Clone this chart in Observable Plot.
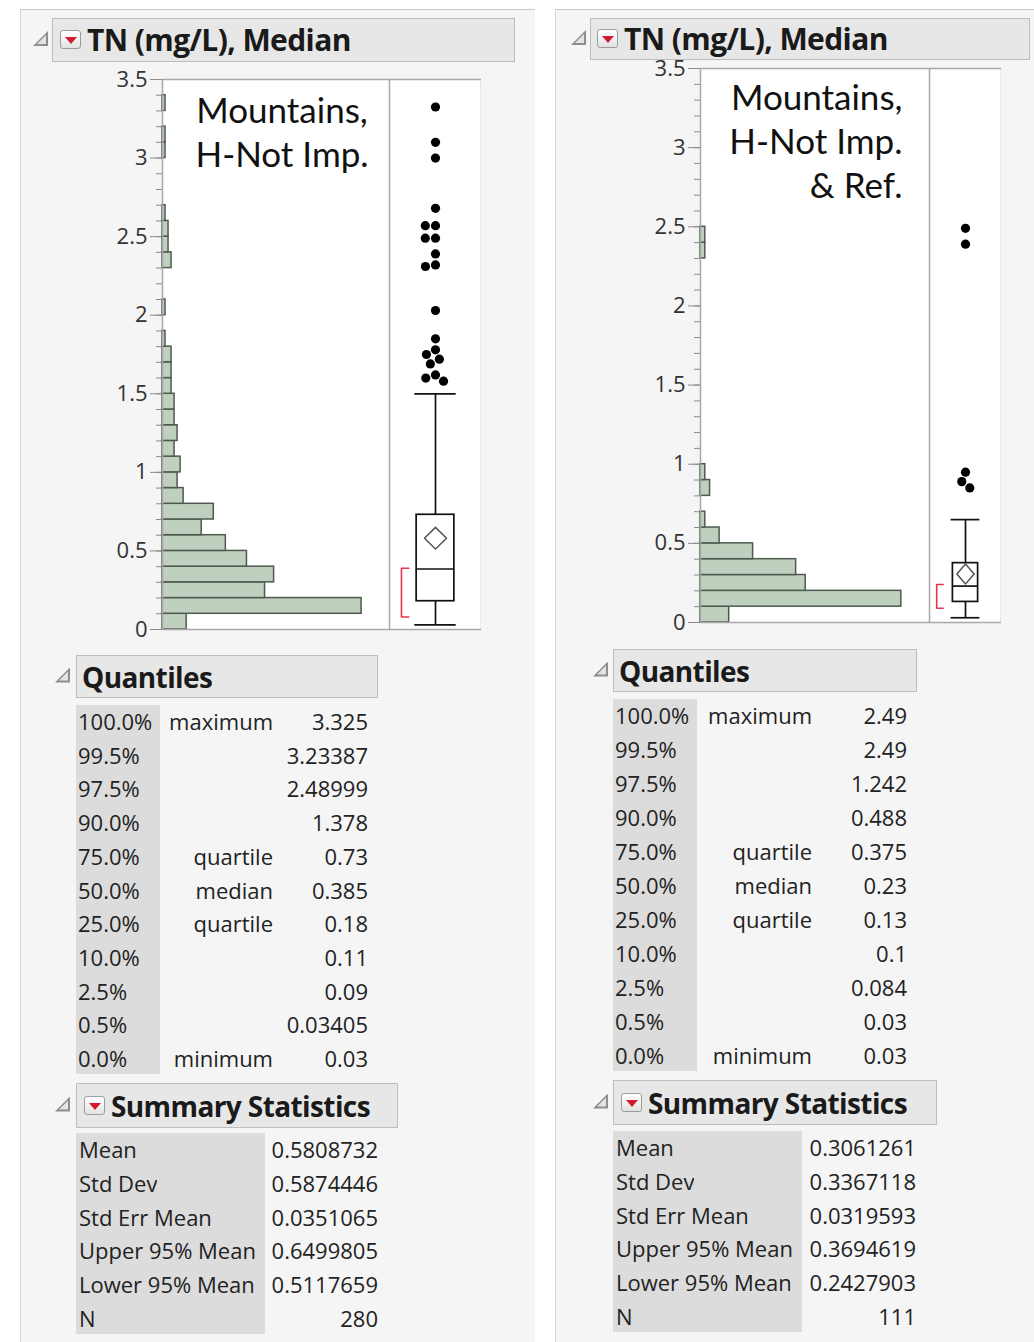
<!DOCTYPE html>
<html>
<head>
<meta charset="utf-8">
<script src="https://cdn.jsdelivr.net/npm/d3@7"></script>
<script src="https://cdn.jsdelivr.net/npm/@observablehq/plot@0.6"></script>
<style>
  html, body { margin: 0; padding: 0; background: #ffffff; }
  #root { position: relative; width: 1034px; height: 1342px; overflow: hidden; font-family: "Open Sans", sans-serif; color: #222; }
  .abs { position: absolute; }
  .panel { position: absolute; top: 9px; height: 1333px; background: #f5f5f5; border-top: 1px solid #c9c9c9; border-left: 1px solid #d6d6d6; box-sizing: border-box; }
  .hdr { position: absolute; background: #e7e7e7; border: 1px solid #bdbdbd; box-sizing: border-box; }
  .tri { position: absolute; width: 15px; height: 15px; background: #8d8d8d; clip-path: polygon(100% 0, 100% 100%, 0 100%); }
  .tri::after { content: ""; position: absolute; left: 4px; top: 4px; width: 9px; height: 9px; background: #e4e4e4; clip-path: polygon(100% 0, 100% 100%, 0 100%); }
  .icon { position: absolute; width: 21px; height: 19px; border: 1px solid #9c9c9c; border-radius: 3px; background: linear-gradient(#ffffff, #e3e3e3); box-sizing: border-box; }
  .icon::after { content: ""; position: absolute; left: 4px; top: 6px; width: 0; height: 0; border-left: 6px solid transparent; border-right: 6px solid transparent; border-top: 7px solid #d41a2e; }
  .t { position: absolute; white-space: nowrap; overflow: hidden; }
  .col { position: absolute; background: #dcdcdc; }
</style>
</head>
<body>
<div id="root"></div>
<script>
// ---------------- data ----------------
const binWidth = 0.1;
const majorTicks = [0, 0.5, 1, 1.5, 2, 2.5, 3, 3.5];
const yDomain = [0, 3.5];

// histogram counts per 0.1-wide bin starting at 0
const leftCounts = [8, 66, 34, 37, 28, 21, 13, 17, 7, 5, 6, 4, 5, 4, 4, 3, 3, 3, 1, 0, 1, 0, 0, 3, 2, 2, 1, 0, 0, 0, 1, 1, 0, 1];
const rightCounts = [6, 42, 22, 20, 11, 4, 1, 0, 2, 1, 0, 0, 0, 0, 0, 0, 0, 0, 0, 0, 0, 0, 0, 1, 1];

const leftOutliers = [3.325, 3.1, 3.0, 2.68, 2.57, 2.57, 2.49, 2.49, 2.39, 2.32, 2.31, 2.03, 1.85, 1.78, 1.75, 1.72, 1.69, 1.62, 1.6, 1.58];
const rightOutliers = [2.49, 2.39, 0.95, 0.89, 0.85];

const leftWhiskers = [0.03, 1.5];
const rightWhiskers = [0.03, 0.65];
const leftShortestHalf = [0.08, 0.39];
const rightShortestHalf = [0.09, 0.24];

const leftLabel = "Mountains,\nH-Not Imp.";
const rightLabel = "Mountains,\nH-Not Imp.\n& Ref.";

const headerTitle = "TN (mg/L), Median";
const quantilesTitle = "Quantiles";
const summaryTitle = "Summary Statistics";

const quantileLevels = ["100.0%", "99.5%", "97.5%", "90.0%", "75.0%", "50.0%", "25.0%", "10.0%", "2.5%", "0.5%", "0.0%"];
const quantileNames = ["maximum", "", "", "", "quartile", "median", "quartile", "", "", "", "minimum"];
const leftQuantiles = [3.325, 3.23387, 2.48999, 1.378, 0.73, 0.385, 0.18, 0.11, 0.09, 0.03405, 0.03];
const rightQuantiles = [2.49, 2.49, 1.242, 0.488, 0.375, 0.23, 0.13, 0.1, 0.084, 0.03, 0.03];

const summaryNames = ["Mean", "Std Dev", "Std Err Mean", "Upper 95% Mean", "Lower 95% Mean", "N"];
const leftSummary = [0.5808732, 0.5874446, 0.0351065, 0.6499805, 0.5117659, 280];
const rightSummary = [0.3061261, 0.3367118, 0.0319593, 0.3694619, 0.2427903, 111];

// ---------------- layout ----------------
const W = 1034;
const barFill = 0.877;
const minorTicks = d3.ticks(0, 3.5, 35);

const panels = [
  {
    counts: leftCounts, quant: leftQuantiles, summary: leftSummary, outliers: leftOutliers,
    whisker: leftWhiskers, half: leftShortestHalf, label: leftLabel,
    panel: {x: 20, w: 515},
    hdr: {x: 52, y: 18, w: 463, h: 44, triX: 33, iconX: 60, textX: 87, size: 30},
    hist: {left: 95, top: 56, ml: 67, frameW: 227, mt: 23, mb: 14, inner: 550,
           frameAnchor: "top", textAnchor: "middle", labelDx: 6, labelDy: 12},
    box: {left: 389, w: 92, bw: 0.41, cap: 0.45, dw: 0.24, bx1: -0.74, bx2: -0.58},
    qHdr: {x: 76, y: 655, w: 302, h: 43, triX: 55, textX: 82, size: 28},
    qRows: {y0: 721, step: 33.7, colX: 76, colW: 84, colTop: 705, colBottom: 1074, pctX: 78, labelRight: 273, valueRight: 368},
    sHdr: {x: 76, y: 1083, w: 322, h: 45, triX: 55, iconX: 84, textX: 111, size: 28},
    sRows: {y0: 1149, step: 33.8, colX: 76, colW: 189, colTop: 1133, colBottom: 1334, nameX: 79, valueRight: 378}
  },
  {
    counts: rightCounts, quant: rightQuantiles, summary: rightSummary, outliers: rightOutliers,
    whisker: rightWhiskers, half: rightShortestHalf, label: rightLabel,
    panel: {x: 555, w: 479},
    hdr: {x: 590, y: 18, w: 440, h: 42, triX: 571, iconX: 597, textX: 624, size: 30},
    hist: {left: 635, top: 46, ml: 65, frameW: 229, mt: 22, mb: 14, inner: 554,
           frameAnchor: "top-right", textAnchor: "end", labelDx: -27, labelDy: 10},
    box: {left: 929, w: 72, bw: 0.35, cap: 0.4, dw: 0.24, bx1: -0.8, bx2: -0.62},
    qHdr: {x: 613, y: 649, w: 304, h: 43, triX: 593, textX: 619, size: 28},
    qRows: {y0: 715, step: 34, colX: 613, colW: 84, colTop: 699, colBottom: 1071, pctX: 615, labelRight: 812, valueRight: 907},
    sHdr: {x: 613, y: 1080, w: 324, h: 45, triX: 593, iconX: 621, textX: 648, size: 28},
    sRows: {y0: 1147, step: 33.8, colX: 613, colW: 189, colTop: 1131, colBottom: 1332, nameX: 616, valueRight: 916}
  }
];

const root = document.getElementById("root");

function div(cls, style, text) {
  const d = document.createElement("div");
  if (cls) d.className = cls;
  Object.assign(d.style, style || {});
  if (text != null) d.textContent = text;
  root.appendChild(d);
  return d;
}
const px = v => v + "px";

function text(s, x, cy, opts = {}) {
  const {align = "left", size = 22, weight = 400, color = "#222", spacing = "normal", lh = 30} = opts;
  const st = {top: px(cy - lh / 2), height: px(lh), lineHeight: px(lh), fontSize: px(size), fontWeight: weight, color, letterSpacing: spacing};
  if (align === "left") st.left = px(x); else st.right = px(W - x);
  return div("t", st, s);
}

function header(h, title, withIcon) {
  div("hdr", {left: px(h.x), top: px(h.y), width: px(h.w), height: px(h.h)});
  div("tri", {left: px(h.triX), top: px(h.y + h.h / 2 - 9)});
  if (withIcon) div("icon", {left: px(h.iconX), top: px(h.y + h.h / 2 - 10)});
  text(title, h.textX, h.y + h.h / 2, {size: h.size, weight: 700, color: "#1a1a1a", spacing: "-0.6px", lh: 40});
}

function histogram(p) {
  const c = p.hist;
  const bins = p.counts
    .map((n, i) => ({lo: +(i * binWidth).toFixed(2), hi: +((i + 1) * binWidth).toFixed(2), n}))
    .filter(d => d.n > 0);
  return Plot.plot({
    width: c.ml + c.frameW, height: c.mt + c.inner + c.mb,
    marginLeft: c.ml, marginRight: 0, marginTop: c.mt, marginBottom: c.mb,
    style: {fontFamily: "'Open Sans', sans-serif", fontSize: "22px", background: "transparent", overflow: "hidden"},
    x: {domain: [0, d3.max(p.counts) / barFill], axis: null},
    y: {domain: yDomain, axis: null},
    marks: [
      Plot.frame({fill: "white"}),
      Plot.axisY(minorTicks, {tickSize: 6, stroke: "#8a8a8a", fill: "none"}),
      Plot.axisY(majorTicks, {tickSize: 12, tickPadding: 3, stroke: "#8a8a8a", fill: "#333", tickFormat: d => String(d)}),
      Plot.rectX(bins, {x1: 0, x2: "n", y1: "lo", y2: "hi", fill: "#bfd0bf", stroke: "#4f5a4f", strokeWidth: 1.5}),
      Plot.frame({stroke: "#a8a8a8", strokeWidth: 1.5}),
      Plot.text([p.label], {
        text: d => d, frameAnchor: c.frameAnchor, textAnchor: c.textAnchor, lineAnchor: "top",
        dx: c.labelDx, dy: c.labelDy, fontSize: 35, fontFamily: "Lato", lineHeight: 1.26, fill: "#111"
      })
    ]
  });
}

function boxplot(p) {
  const c = p.box, h = p.hist, q = p.quant;
  const q3 = q[4], med = q[5], q1 = q[6];
  const mean = p.summary[0], upper = p.summary[3], lower = p.summary[4];
  const [wLo, wHi] = p.whisker;
  const [hLo, hHi] = p.half;
  const ink = {stroke: "#111", strokeWidth: 1.7};
  return Plot.plot({
    width: c.w, height: h.mt + h.inner + h.mb,
    marginLeft: 0, marginRight: 0, marginTop: h.mt, marginBottom: h.mb,
    style: {background: "transparent", overflow: "hidden"},
    x: {domain: [-1, 1], axis: null},
    y: {domain: yDomain, axis: null},
    marks: [
      Plot.frame({fill: "white"}),
      Plot.ruleX([[q3, wHi], [wLo, q1]], {x: 0, y1: d => d[0], y2: d => d[1], ...ink}),
      Plot.ruleY([wLo, wHi], {y: d => d, x1: -c.cap, x2: c.cap, ...ink}),
      Plot.rect([[q1, q3]], {x1: -c.bw, x2: c.bw, y1: d => d[0], y2: d => d[1], fill: "none", ...ink}),
      Plot.ruleY([med], {y: d => d, x1: -c.bw, x2: c.bw, ...ink}),
      Plot.line([[0, upper], [c.dw, mean], [0, lower], [-c.dw, mean], [0, upper]],
        {x: d => d[0], y: d => d[1], stroke: "#555", strokeWidth: 1.5, curve: "linear"}),
      Plot.line([[c.bx2, hLo], [c.bx1, hLo], [c.bx1, hHi], [c.bx2, hHi]],
        {x: d => d[0], y: d => d[1], stroke: "#e0384c", strokeWidth: 1.6}),
      Plot.dot(p.outliers, Plot.dodgeX("middle", {y: d => d, r: 4.6, fill: "#000", padding: -4})),
      Plot.frame({stroke: "#a8a8a8", strokeWidth: 1.5})
    ]
  });
}

for (const p of panels) {
  div("panel", {left: px(p.panel.x), width: px(p.panel.w)});
}

for (const p of panels) {
  const hs = histogram(p);
  const hw = div("abs", {left: px(p.hist.left), top: px(p.hist.top)});
  hw.appendChild(hs);
  const bs = boxplot(p);
  const bw = div("abs", {left: px(p.box.left), top: px(p.hist.top)});
  bw.appendChild(bs);

  header(p.hdr, headerTitle, true);

  // Quantiles
  header(p.qHdr, quantilesTitle, false);
  const r = p.qRows;
  div("col", {left: px(r.colX), top: px(r.colTop), width: px(r.colW), height: px(r.colBottom - r.colTop)});
  quantileLevels.forEach((lv, i) => {
    const cy = r.y0 + i * r.step;
    text(lv, r.pctX, cy);
    if (quantileNames[i]) text(quantileNames[i], r.labelRight, cy, {align: "right"});
    text(String(p.quant[i]), r.valueRight, cy, {align: "right"});
  });

  // Summary statistics
  header(p.sHdr, summaryTitle, true);
  const s = p.sRows;
  div("col", {left: px(s.colX), top: px(s.colTop), width: px(s.colW), height: px(s.colBottom - s.colTop)});
  summaryNames.forEach((nm, i) => {
    const cy = s.y0 + i * s.step;
    text(nm, s.nameX, cy);
    text(String(p.summary[i]), s.valueRight, cy, {align: "right"});
  });
}
</script>
</body>
</html>
